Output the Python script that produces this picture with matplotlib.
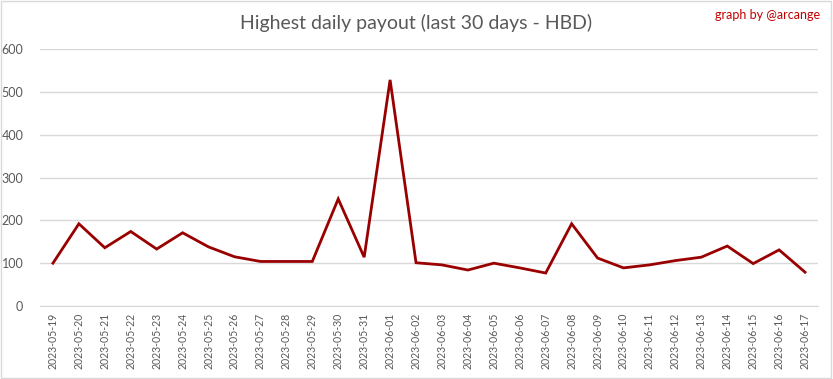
import matplotlib
matplotlib.use("Agg")
import matplotlib.pyplot as plt

# Dane
dates = [
    "2023-05-19", "2023-05-20", "2023-05-21", "2023-05-22", "2023-05-23",
    "2023-05-24", "2023-05-25", "2023-05-26", "2023-05-27", "2023-05-28",
    "2023-05-29", "2023-05-30", "2023-05-31", "2023-06-01", "2023-06-02",
    "2023-06-03", "2023-06-04", "2023-06-05", "2023-06-06", "2023-06-07",
    "2023-06-08", "2023-06-09", "2023-06-10", "2023-06-11", "2023-06-12",
    "2023-06-13", "2023-06-14", "2023-06-15", "2023-06-16", "2023-06-17",
]
payout = [
    100, 192, 136, 174, 133, 171, 138, 115, 104, 104,
    104, 250, 114, 528, 101, 96, 84, 100, 89, 77,
    192, 112, 89, 96, 106, 114, 140, 99, 131, 79,
]
y_ticks = [0, 100, 200, 300, 400, 500, 600]

plt.rcParams["font.family"] = ["Lato", "DejaVu Sans"]
grey = "#595959"

fig = plt.figure(figsize=(8.33, 3.79), dpi=100)
ax = fig.add_axes([0.048, 0.1926, 0.934, 0.678])

x = list(range(len(dates)))
ax.plot(x, payout, color="#990000", linewidth=2, solid_joinstyle="miter")

ax.set_xlim(-0.5, len(dates) - 0.5)
ax.set_ylim(0, 600)
ax.set_yticks(y_ticks)
ax.set_xticks(x)
ax.set_xticklabels(dates, rotation=90, fontsize=7.6)
ax.tick_params(axis="both", length=0, colors=grey)
ax.tick_params(axis="y", labelsize=9, pad=12)
ax.tick_params(axis="x", pad=5)
ax.grid(axis="y", color="#d9d9d9", linewidth=1)
ax.set_axisbelow(True)
for s in ["top", "right", "left"]:
    ax.spines[s].set_visible(False)
ax.spines["bottom"].set_color("#d9d9d9")

fig.text(0.5, 0.94, "Highest daily payout (last 30 days - HBD)",
         ha="center", va="center", fontsize=14, color=grey)
fig.text(0.985, 0.96, "graph by @arcange", ha="right", va="center",
         fontsize=9, color="#c00000")

# Ramka wokół całego obrazka
fig.patches.append(plt.Rectangle((0.001, 0.002), 0.997, 0.995, transform=fig.transFigure,
                                 fill=False, edgecolor="#d9d9d9", linewidth=1))

fig.savefig("out.png", dpi=100)
